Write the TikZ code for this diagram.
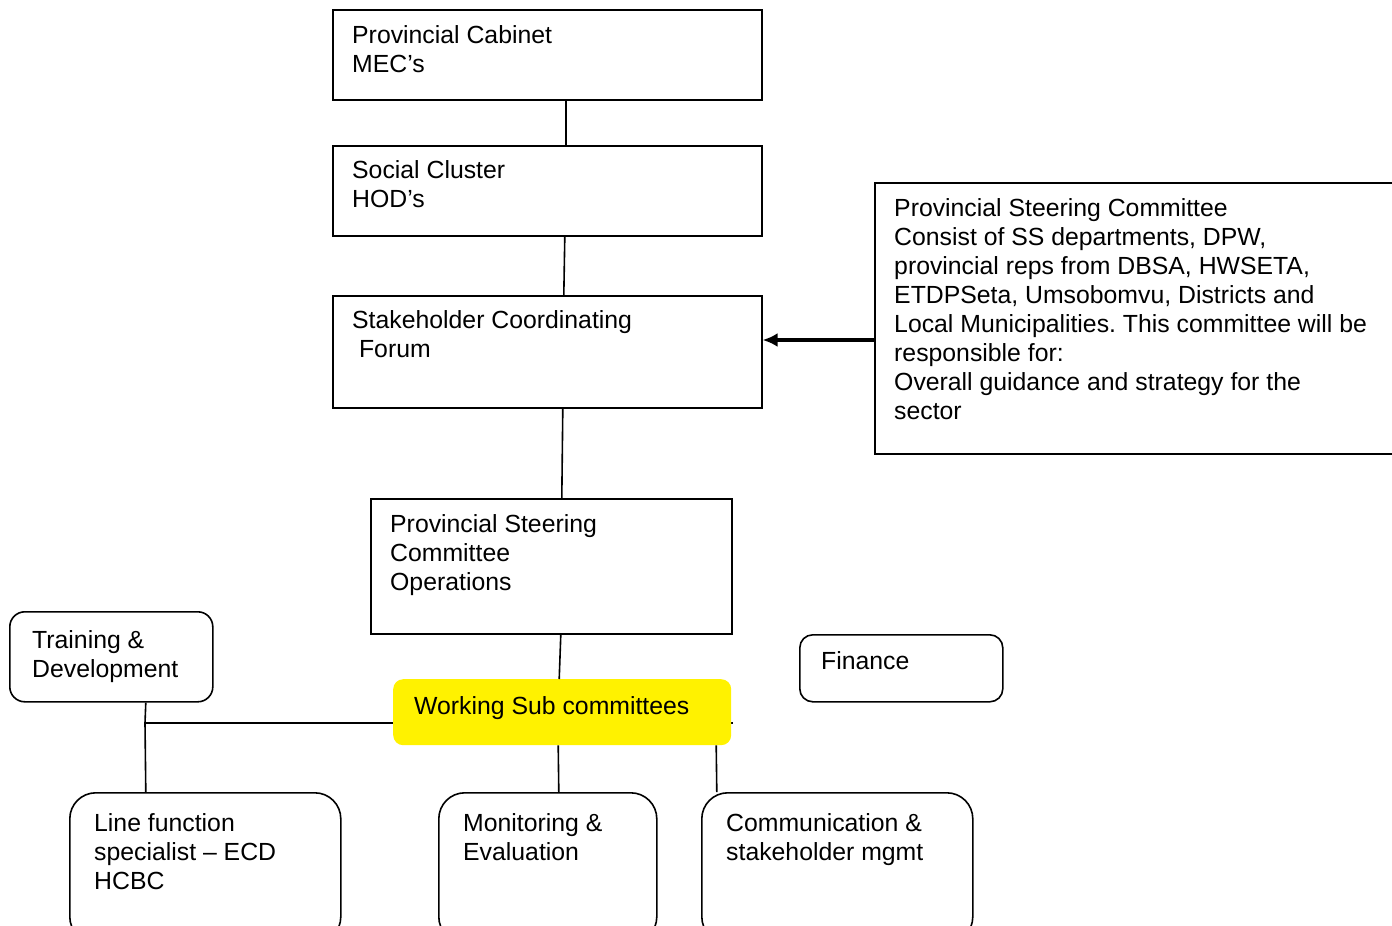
\documentclass[tikz,border=0pt]{standalone}
\usepackage{fontspec}
\setmainfont{Liberation Sans}
\usetikzlibrary{arrows.meta}
\frenchspacing
\begin{document}
\begin{tikzpicture}[x=1pt,y=-1pt,
  box/.style={draw=black, line width=1.6pt, anchor=north west, inner sep=0pt},
  rbox/.style={box, rounded corners=#1},
  % text nodes are placed by the baseline of their last line
  txt/.style={anchor=base west, inner sep=0pt, font=\fontsize{24.8}{29}\selectfont, align=left},
  link/.style={draw=black, line width=1.6pt},
  pointer/.style={draw=black, line width=3.4pt, -{Latex[length=15pt,width=14pt]}}]
\useasboundingbox (0,0) rectangle (1392,926);
\clip (0,0) rectangle (1392,926);

% upper chain of square boxes
\node[box, minimum width=429pt, minimum height=90pt] (cab) at (332,9) {};
\node[txt] (cabt) at (352,72) {Provincial Cabinet\\MEC’s};
\node[box, minimum width=429pt, minimum height=90pt] (soc) at (332,145) {};
\node[txt] (soct) at (352,207) {Social Cluster\\HOD’s};
\node[box, minimum width=429pt, minimum height=112pt] (scf) at (332,295) {};
\node[txt] (scft) at (352,357) {Stakeholder Coordinating\\ \ Forum};
\node[box, minimum width=526pt, minimum height=271pt] (rsc) at (874,182) {};
\node[txt] (rsct) at (894,419) {Provincial Steering Committee\\Consist of SS departments, DPW,\\provincial reps from DBSA, HWSETA,\\ETDPSeta, Umsobomvu, Districts and\\Local Municipalities. This committee will be\\responsible for:\\Overall guidance and strategy for the\\sector};
\node[box, minimum width=361pt, minimum height=135pt] (psco) at (370,498) {};
\node[txt] (psct) at (390,590) {Provincial Steering\\Committee\\Operations};

% rounded boxes
\node[rbox=15pt, minimum width=203pt, minimum height=90pt] (train) at (9,611) {};
\node[txt] (traint) at (32,677) {Training \&\\Development};
\node[rbox=13pt, minimum width=203pt, minimum height=67pt] (fin) at (799,634) {};
\node[txt] (fint) at (821,669) {Finance};
\node[rbox=26pt, minimum width=271pt, minimum height=150pt] (linef) at (69,792) {};
\node[txt] (lineft) at (94,889) {Line function\\specialist – ECD\\HCBC};
\node[rbox=26pt, minimum width=218pt, minimum height=150pt] (mon) at (438,792) {};
\node[txt] (mont) at (463,860) {Monitoring \&\\Evaluation};
\node[rbox=26pt, minimum width=271pt, minimum height=150pt] (comm) at (701,792) {};
\node[txt] (commt) at (726,860) {Communication \&\\stakeholder mgmt};

% horizontal branch behind the yellow box
\coordinate (tee) at (145,723);
\coordinate (teeend) at (733,723);
\draw[link] (tee) -- (teeend);

\node[fill=yellow, rounded corners=10pt, anchor=north west, inner sep=0pt,
      minimum width=338pt, minimum height=66pt] (work) at (393,679) {};
\node[txt] (workt) at (414,714) {Working Sub committees};

% connectors
\draw[link] ([xshift=18.5pt]cab.south) -- ([xshift=18.5pt]soc.north);
\draw[link] ([xshift=17.5pt]soc.south) -- ([xshift=16.5pt]scf.north);
\draw[link] ([xshift=15.5pt]scf.south) -- ([xshift=10.5pt]psco.north);
\draw[link] ([xshift=9.5pt]psco.south) -- ([xshift=-3pt]work.north);
\draw[link] ([xshift=-4pt]work.south) -- ([xshift=11pt]mon.north);
\draw[link] ([xshift=154pt]work.south) -- ([xshift=-120.5pt]comm.north);
\draw[link] ([xshift=34.5pt]train.south) -- (tee) -- ([xshift=-59.5pt]linef.north);

\coordinate (arrowy) at (0,340);
\draw[pointer] (rsc.west |- arrowy) -- (scf.east |- arrowy);
\end{tikzpicture}
\end{document}
